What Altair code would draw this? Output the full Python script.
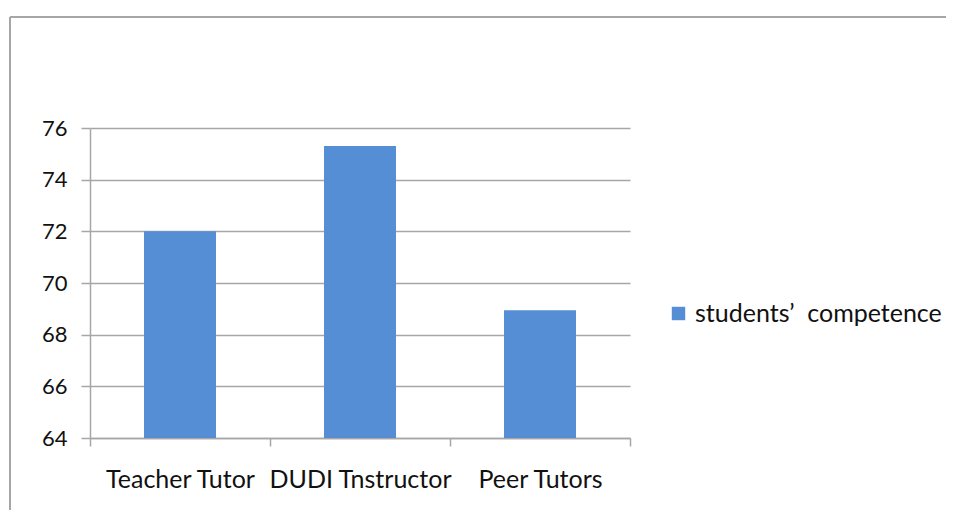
import altair as alt
import pandas as pd

categories = ["Teacher Tutor", "DUDI Tnstructor", "Peer Tutors"]
values = [72.0, 75.3, 68.95]
series_name = "students’\u00a0 competence"
y_ticks = [64, 66, 68, 70, 72, 74, 76]

df = pd.DataFrame({"category": categories, "value": values, "series": [series_name] * 3})

FONT = "Lato"
GRAY = "#A6A6A6"
BLUE = "#558ED5"

W, H = 540, 310
PL, PT = 82, 120
SVG_W, SVG_H = 938, 502

bars = alt.Chart(df).mark_bar(color=BLUE, clip=True, width=alt.RelativeBandSize(0.4)).encode(
    x=alt.X("category:N", sort=categories, title=None,
            scale=alt.Scale(paddingInner=0, paddingOuter=0),
            axis=alt.Axis(tickBand="extent", labelAngle=0, labelFontSize=25, labelFont=FONT,
                          labelColor="#111111", labelPadding=21, labelLimit=400, tickSize=8,
                          tickColor=GRAY, tickWidth=1.5, domainColor=GRAY, domainWidth=1.5,
                          grid=False)),
    y=alt.Y("value:Q", title=None,
            scale=alt.Scale(domain=[64, 76], nice=False, zero=False),
            axis=alt.Axis(values=y_ticks, labelFontSize=22, labelFont=FONT, labelColor="#111111",
                          labelPadding=14, tickSize=9, tickColor=GRAY, tickWidth=1.5,
                          domainColor=GRAY, domainWidth=1.5, gridColor=GRAY, gridWidth=1.5)),
    color=alt.Color("series:N", scale=alt.Scale(range=[BLUE]),
                    legend=alt.Legend(orient="none", legendX=576, legendY=173, title=None,
                                      symbolType="square", symbolSize=180, symbolStrokeWidth=0,
                                      labelFontSize=25, labelFont=FONT, labelColor="#111111",
                                      labelOffset=4, padding=0, labelLimit=400)),
)

frame_data = alt.Data(values=[{"k": 1}])
top_line = alt.Chart(frame_data).mark_rule(color=GRAY, strokeWidth=2).encode(
    x=alt.value(-PL + 2), x2=alt.value(SVG_W - PL), y=alt.value(-PT + 9)
)
left_line = alt.Chart(frame_data).mark_rule(color=GRAY, strokeWidth=2).encode(
    x=alt.value(-PL + 2), y=alt.value(-PT + 9), y2=alt.value(SVG_H - PT)
)

chart = alt.layer(bars, top_line, left_line).properties(
    width=W, height=H,
    autosize=alt.AutoSizeParams(type="none"),
    padding={"left": PL, "top": PT, "right": SVG_W - PL - W, "bottom": SVG_H - PT - H},
).configure_view(stroke=None)

chart.save("out.html", embed_options={"renderer": "svg", "actions": False})
